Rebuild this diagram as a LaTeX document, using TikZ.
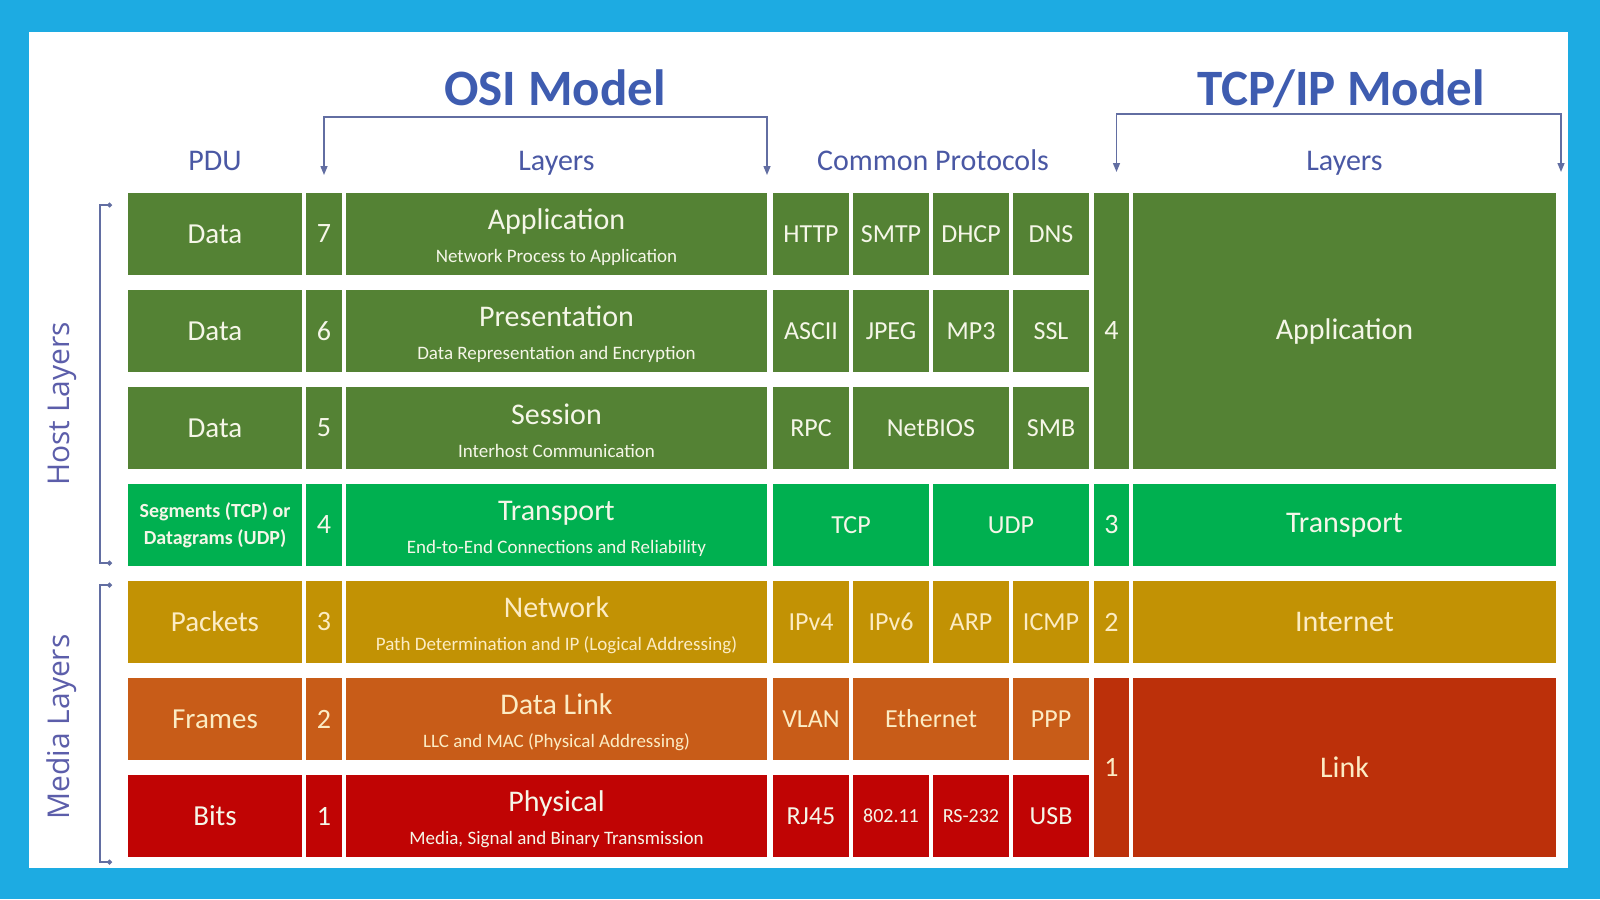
\documentclass[tikz,border=0pt]{standalone}
\usepackage{fontspec}
\setmainfont{Carlito}
\newfontfamily\sidefont{Open Sans}
\usetikzlibrary{positioning, arrows.meta}

\newcommand{\subln}[1]{{\fontsize{9.5}{11}\selectfont #1}}
\newcommand{\ttl}[1]{\rule{0pt}{13.5pt}#1}

\begin{document}
\begin{tikzpicture}[x=1pt, y=-1pt]

	\definecolor{bg_blue}{RGB}{29,171,226}
\definecolor{title_blue}{RGB}{62,92,176}
\definecolor{head_blue}{RGB}{74,88,164}
\definecolor{side_blue}{RGB}{92,94,170}
\definecolor{line_blue}{RGB}{98,110,162}
\definecolor{cell_text}{RGB}{245,246,232}
\definecolor{warm_text}{RGB}{252,236,196}

\definecolor{osi_green}{RGB}{84,130,52}
\definecolor{osi_lime}{RGB}{0,176,80}
\definecolor{osi_gold}{RGB}{194,146,4}
\definecolor{osi_orange}{RGB}{200,92,24}
\definecolor{osi_red}{RGB}{192,4,4}
\definecolor{link_red}{RGB}{188,48,10}

\tikzstyle{cell} = [rectangle, inner sep=0pt, outer sep=0pt, minimum height=41pt, text=cell_text, align=center]
\tikzstyle{pdu_cell} = [cell, minimum width=87pt, font=\fontsize{14.5}{17}\selectfont]
\tikzstyle{num_cell} = [cell, minimum width=18pt, font=\fontsize{14}{17}\selectfont]
\tikzstyle{layer_cell} = [cell, minimum width=210.5pt, font=\fontsize{15}{16.5}\selectfont]
\tikzstyle{proto_cell} = [cell, minimum width=38pt, font=\fontsize{13}{15}\selectfont]
\tikzstyle{proto_wide} = [proto_cell, minimum width=78pt]
\tikzstyle{tnum_cell} = [num_cell, minimum width=17.5pt]
\tikzstyle{tlayer_cell} = [layer_cell, minimum width=211.5pt]

\tikzstyle{host_row} = [fill=osi_green]
\tikzstyle{trans_row} = [fill=osi_lime]
\tikzstyle{net_row} = [fill=osi_gold, text=warm_text]
\tikzstyle{data_row} = [fill=osi_orange, text=warm_text]
\tikzstyle{phys_row} = [fill=osi_red]

\tikzstyle{header} = [text=head_blue, font=\fontsize{15}{18}\selectfont, anchor=base]
\tikzstyle{model_title} = [text=title_blue, font=\fontsize{25.5}{30}\selectfont\bfseries, anchor=base]
\tikzstyle{side_label} = [text=side_blue, font=\sidefont\fontsize{15}{18}\selectfont, rotate=90]
\tikzstyle{bracket} = [draw=line_blue, line width=0.7pt, >={Triangle[length=4.5pt, width=3.5pt]}]
\tikzstyle{side_bracket} = [draw=line_blue, line width=0.6pt, {Circle[length=2.5pt]}-{Circle[length=2.5pt]}]

	\path [use as bounding box, fill=bg_blue] (0,0) rectangle (800,449.5);
	\fill [white] (14.5,16) rectangle (784,434);

	% OSI layer 7
	\node [pdu_cell, host_row, anchor=north west] (pdu7) at (64,96.5) {Data};
	\node [num_cell, host_row, right=2pt of pdu7] (num7) {7};
	\node [layer_cell, host_row, right=2pt of num7] (lay7) {\ttl{Application}\\\subln{Network Process to Application}};
	\node [proto_cell, host_row, right=3pt of lay7] (http) {HTTP};
	\node [proto_cell, host_row, right=2pt of http] (smtp) {SMTP};
	\node [proto_cell, host_row, right=2pt of smtp] (dhcp) {DHCP};
	\node [proto_cell, host_row, right=2pt of dhcp] (dns) {DNS};

	% OSI layer 6
	\node [pdu_cell, host_row, below=7.5pt of pdu7] (pdu6) {Data};
	\node [num_cell, host_row, right=2pt of pdu6] (num6) {6};
	\node [layer_cell, host_row, right=2pt of num6] (lay6) {\ttl{Presentation}\\\subln{Data Representation and Encryption}};
	\node [proto_cell, host_row, right=3pt of lay6] (ascii) {ASCII};
	\node [proto_cell, host_row, right=2pt of ascii] (jpeg) {JPEG};
	\node [proto_cell, host_row, right=2pt of jpeg] (mp3) {MP3};
	\node [proto_cell, host_row, right=2pt of mp3] (ssl) {SSL};

	% OSI layer 5
	\node [pdu_cell, host_row, below=7.5pt of pdu6] (pdu5) {Data};
	\node [num_cell, host_row, right=2pt of pdu5] (num5) {5};
	\node [layer_cell, host_row, right=2pt of num5] (lay5) {\ttl{Session}\\\subln{Interhost Communication}};
	\node [proto_cell, host_row, right=3pt of lay5] (rpc) {RPC};
	\node [proto_wide, host_row, right=2pt of rpc] (netbios) {NetBIOS};
	\node [proto_cell, host_row, right=2pt of netbios] (smb) {SMB};

	% OSI layer 4
	\node [pdu_cell, trans_row, below=7.5pt of pdu5, font=\fontsize{10}{13.5}\selectfont\bfseries] (pdu4) {Segments (TCP) or\\Datagrams (UDP)};
	\node [num_cell, trans_row, right=2pt of pdu4] (num4) {4};
	\node [layer_cell, trans_row, right=2pt of num4] (lay4) {\ttl{Transport}\\\subln{End-to-End Connections and Reliability}};
	\node [proto_wide, trans_row, right=3pt of lay4] (tcp) {TCP};
	\node [proto_wide, trans_row, right=2pt of tcp] (udp) {UDP};

	% OSI layer 3
	\node [pdu_cell, net_row, below=7.5pt of pdu4] (pdu3) {Packets};
	\node [num_cell, net_row, right=2pt of pdu3] (num3) {3};
	\node [layer_cell, net_row, right=2pt of num3] (lay3) {\ttl{Network}\\\subln{Path Determination and IP (Logical Addressing)}};
	\node [proto_cell, net_row, right=3pt of lay3] (ipv4) {IPv4};
	\node [proto_cell, net_row, right=2pt of ipv4] (ipv6) {IPv6};
	\node [proto_cell, net_row, right=2pt of ipv6] (arp) {ARP};
	\node [proto_cell, net_row, right=2pt of arp] (icmp) {ICMP};

	% OSI layer 2
	\node [pdu_cell, data_row, below=7.5pt of pdu3] (pdu2) {Frames};
	\node [num_cell, data_row, right=2pt of pdu2] (num2) {2};
	\node [layer_cell, data_row, right=2pt of num2] (lay2) {\ttl{Data Link}\\\subln{LLC and MAC (Physical Addressing)}};
	\node [proto_cell, data_row, right=3pt of lay2] (vlan) {VLAN};
	\node [proto_wide, data_row, right=2pt of vlan] (ethernet) {Ethernet};
	\node [proto_cell, data_row, right=2pt of ethernet] (ppp) {PPP};

	% OSI layer 1
	\node [pdu_cell, phys_row, below=7.5pt of pdu2] (pdu1) {Bits};
	\node [num_cell, phys_row, right=2pt of pdu1] (num1) {1};
	\node [layer_cell, phys_row, right=2pt of num1] (lay1) {\ttl{Physical}\\\subln{Media, Signal and Binary Transmission}};
	\node [proto_cell, phys_row, right=3pt of lay1] (rj45) {RJ45};
	\node [proto_cell, phys_row, right=2pt of rj45, font=\fontsize{10}{12}\selectfont] (wifi) {802.11};
	\node [proto_cell, phys_row, right=2pt of wifi, font=\fontsize{10}{12}\selectfont] (rs232) {RS-232};
	\node [proto_cell, phys_row, right=2pt of rs232] (usb) {USB};

	% TCP/IP layers
	\node [tnum_cell, host_row, anchor=north west, minimum height=138pt] (tnum4) at ([xshift=2.5pt]dns.north east) {4};
	\node [tlayer_cell, host_row, minimum height=138pt, right=2pt of tnum4] (tapp) {Application};
	\node [tnum_cell, trans_row, right=2.5pt of udp] (tnum3) {3};
	\node [tlayer_cell, trans_row, right=2pt of tnum3] (ttrans) {Transport};
	\node [tnum_cell, net_row, right=2.5pt of icmp] (tnum2) {2};
	\node [tlayer_cell, net_row, right=2pt of tnum2] (tinet) {Internet};
	\node [tnum_cell, fill=link_red, text=warm_text, anchor=north west, minimum height=89.5pt] (tnum1) at ([xshift=2.5pt]ppp.north east) {1};
	\node [tlayer_cell, fill=link_red, text=warm_text, minimum height=89.5pt, right=2pt of tnum1] (tlink) {Link};

	% headers and titles
	\node [header] (hdr_pdu) at ([yshift=11.5pt]pdu7.north) {PDU};
	\node [header] (hdr_osi) at (lay7.north |- hdr_pdu.base) {Layers};
	\node [header] (hdr_proto) at (dhcp.north west |- hdr_pdu.base) {Common Protocols};
	\node [header] (hdr_tcp) at (tapp.north |- hdr_pdu.base) {Layers};

	\node [model_title] (osi_title) at (277.5,52.5) {OSI Model};
	\node [model_title] (tcp_title) at (670.5,52.5) {TCP/IP Model};

	\coordinate (osi_l) at ([yshift=9pt]num7.north);
	\coordinate (osi_r) at ([yshift=9pt]lay7.north east);
	\coordinate (osi_t) at (277.5,58.5);
	\draw [bracket, <->] (osi_l) |- (osi_t) -| (osi_r);

	\coordinate (tcp_l) at ([xshift=2.5pt, yshift=10.5pt]tnum4.north);
	\coordinate (tcp_r) at ([xshift=2.5pt, yshift=10.5pt]tapp.north east);
	\coordinate (tcp_t) at (670.5,57);
	\draw [bracket, <->] (tcp_l) |- (tcp_t) -| (tcp_r);

	% host / media brackets
	\coordinate (host_t) at (56,102.5);
	\coordinate (host_b) at (56,281.5);
	\draw [side_bracket] (host_t) -- ++(-6,0) |- (host_b);
	\node [side_label] (host_lbl) at (31,202) {Host Layers};

	\coordinate (media_t) at (56,292.5);
	\coordinate (media_b) at (56,431);
	\draw [side_bracket] (media_t) -- ++(-6,0) |- (media_b);
	\node [side_label] (media_lbl) at (31,363.5) {Media Layers};

\end{tikzpicture}
\end{document}
